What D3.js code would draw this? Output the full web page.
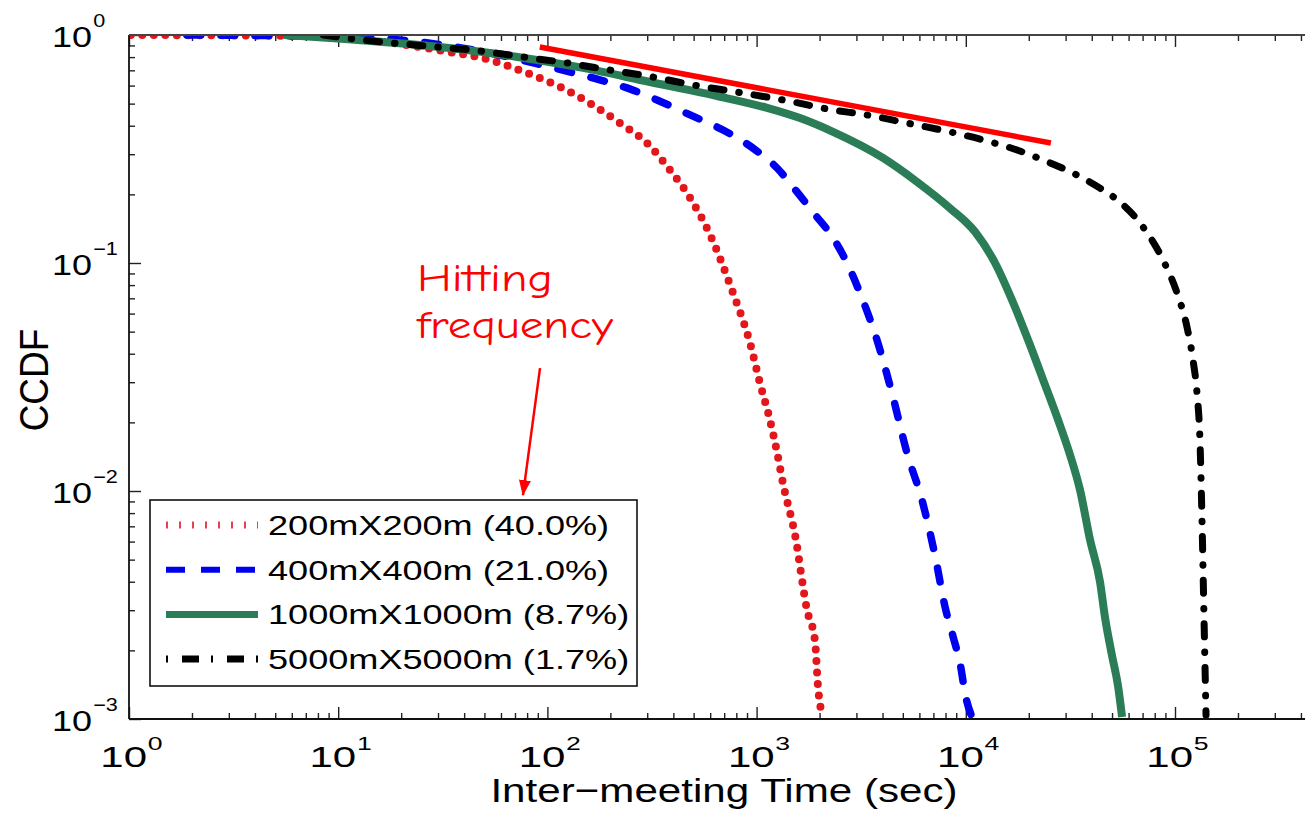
<!DOCTYPE html>
<html>
<head>
<meta charset="utf-8">
<script src="https://cdn.jsdelivr.net/npm/d3@7"></script>
<style>
body{margin:0;background:#fff}
text{font-family:"Liberation Sans",Arial,Helvetica,sans-serif;fill:#000}
</style>
</head>
<body>
<svg id="chart"></svg>
<script>
// values: [inter-meeting time (sec), CCDF]
var seriesNames = ["200mX200m (40.0%)", "400mX400m (21.0%)", "1000mX1000m (8.7%)", "5000mX5000m (1.7%)"]

var ccdf200 = [[1.02,1],[6.6,0.99],[19.7,0.913],[34,0.842],[49,0.793],[80,0.681],[115,0.592],[165,0.493],
    [222,0.411],[299,0.336],[385,0.256],[481,0.193],[599,0.133],[771,0.074],[930,0.0446],[1037,0.0298],
    [1158,0.0205],[1252,0.0148],[1337,0.0108],[1527,0.0064],[1743,0.0030],[1902,0.0022],[1964,0.0014],[2075,0.00102]]

var ccdf400 = [[1.89,1],[6.6,0.99],[19.7,0.951],[34,0.895],[59,0.817],[103,0.724],[165,0.648],[240,0.586],
    [334,0.519],[481,0.446],[691,0.383],[961,0.319],[1252,0.261],[1560,0.205],[1861,0.167],[2319,0.129],
    [2706,0.100],[3121,0.0738],[3764,0.0459],[4489,0.0258],[5235,0.0147],[6180,0.0091],[7130,0.0052],
    [7960,0.0031],[8690,0.0023],[9450,0.0017],[9910,0.0013],[10700,0.00102]]

var ccdf1000 = [[5.5,1],[6.6,0.99],[16.4,0.932],[34,0.877],[72,0.801],[148,0.717],[309,0.622],[647,0.540],
    [1122,0.479],[1612,0.432],[2319,0.376],[4018,0.289],[5845,0.227],[8400,0.174],[11070,0.137],[13800,0.100],
    [16630,0.0688],[20280,0.0437],[23920,0.0292],[27610,0.0205],[31490,0.0144],[35160,0.0101],[39260,0.0061],
    [43790,0.0040],[46260,0.0028],[49980,0.0019],[53390,0.0014],[55850,0.00102]]

var ccdf5000 = [[8.5,1],[12,0.96],[18.3,0.922],[29.7,0.886],[47.6,0.851],[76.4,0.801],[124,0.754],[199,0.702],
    [320,0.654],[497,0.604],[806,0.562],[1337,0.519],[2319,0.469],[3370,0.446],[5235,0.411],[8400,0.376],
    [13050,0.340],[17570,0.313],[23400,0.283],[32540,0.248],[43800,0.213],[54600,0.185],[70300,0.144],
    [87700,0.103],[102300,0.0738],[114100,0.0524],[121900,0.0376],[127400,0.0269],[131600,0.0167],
    [134600,0.0075],[137700,0.0027],[140700,0.00104]]

var fitLine = [[92,0.886],[25500,0.336]]
var arrowLine = [[92.2,0.0346],[76.4,0.0096]]
var noteLines = ["Hitting", "frequency"]
var noteAnchors = [[23.8,0.0754],[23.8,0.0469]]

var xTickPowers = [0,1,2,3,4,5]
var yTickPowers = [0,-1,-2,-3]

// styles, kept apart from the data
var lineStyles = [
    {color:"#e3161b", width:8, dash:"0 11.5", cap:"round"},
    {color:"#0000f0", width:7.5, dash:"14 20", cap:"round"},
    {color:"#2b7d57", width:8, dash:null, cap:"butt"},
    {color:"#000000", width:7, dash:"13 15 0.5 15", cap:"round"}
]
var legendStyles = [
    {color:"#e34050", width:7, dash:"2 11"},
    {color:"#0000f0", width:6, dash:"19 16"},
    {color:"#2b7d57", width:7, dash:null},
    {color:"#000000", width:7, dash:"2 14 17 12"}
]

var screen = {width:1305, height:814}
var plot = {left:129, top:35, bottom:719, decade:209.2}

var svg = d3.select("#chart")
    .attr("width", screen.width)
    .attr("height", screen.height)

svg.append("rect")
    .attr("width", screen.width)
    .attr("height", screen.height)
    .attr("fill", "#fff")

var xScale = d3.scaleLog()
    .domain([1, 1e6])
    .range([plot.left, plot.left + 6*plot.decade])

var yScale = d3.scaleLog()
    .domain([1e-3, 1])
    .range([plot.bottom, plot.top])

svg.append("defs")
    .append("clipPath")
    .attr("id", "clip")
    .append("rect")
    .attr("x", plot.left)
    .attr("y", plot.top)
    .attr("width", xScale(1e6) - plot.left)
    .attr("height", plot.bottom - plot.top)

var marker = svg.select("defs")
    .append("marker")
    .attr("id", "arrowhead")
    .attr("viewBox", "0 0 16 12")
    .attr("refX", 15)
    .attr("refY", 6)
    .attr("markerWidth", 16)
    .attr("markerHeight", 12)
    .attr("markerUnits", "userSpaceOnUse")
    .attr("orient", "auto")
marker.append("path")
    .attr("d", "M0,0 L16,6 L0,12 Z")
    .attr("fill", "#ff0000")

// ticks: majors longer than minors, all pointing inward
var isMajor = function(v)
{
    var l = Math.log10(v)
    return Math.abs(l - Math.round(l)) < 1e-6
}
var xMinor = xScale.ticks().filter(function(v) { return !isMajor(v) })
var xMajor = xScale.ticks().filter(isMajor)
var yMinor = yScale.ticks().filter(function(v) { return !isMajor(v) })
var yMajor = yScale.ticks().filter(isMajor)

var drawTicks = function(axis, values, size, transform)
{
    var g = svg.append("g")
        .attr("transform", transform)
        .call(axis.tickValues(values).tickSize(size).tickFormat(""))
    g.select(".domain").remove()
    g.selectAll("line").attr("stroke", "#222").attr("stroke-width", 1.4)
}
drawTicks(d3.axisBottom(xScale), xMajor, -12, "translate(0," + plot.bottom + ")")
drawTicks(d3.axisBottom(xScale), xMinor, -6, "translate(0," + plot.bottom + ")")
drawTicks(d3.axisTop(xScale), xMajor, -12, "translate(0," + plot.top + ")")
drawTicks(d3.axisTop(xScale), xMinor, -6, "translate(0," + plot.top + ")")
drawTicks(d3.axisLeft(yScale), yMajor, -12, "translate(" + plot.left + ",0)")
drawTicks(d3.axisLeft(yScale), yMinor, -6, "translate(" + plot.left + ",0)")

// curves
var lineGen = d3.line()
    .x(function(d) { return xScale(d[0]) })
    .y(function(d) { return yScale(d[1]) })
    .curve(d3.curveMonotoneX)

var curves = svg.append("g").attr("clip-path", "url(#clip)")
var allSeries = [ccdf200, ccdf400, ccdf1000, ccdf5000]
allSeries.forEach(function(data, i)
{
    var s = lineStyles[i]
    curves.append("path")
        .datum(data)
        .attr("d", lineGen)
        .attr("fill", "none")
        .attr("stroke", s.color)
        .attr("stroke-width", s.width)
        .attr("stroke-dasharray", s.dash)
        .attr("stroke-linecap", s.cap)
        .attr("stroke-linejoin", "round")
})

// frame
var frame = svg.append("g")
    .attr("stroke", "#111")
    .attr("stroke-width", 1.8)
frame.append("line")
    .attr("x1", plot.left).attr("x2", plot.left)
    .attr("y1", plot.top).attr("y2", plot.bottom)
frame.append("line")
    .attr("x1", plot.left).attr("x2", xScale(1e6))
    .attr("y1", plot.bottom).attr("y2", plot.bottom)
frame.append("line")
    .attr("x1", plot.left).attr("x2", xScale(1e6))
    .attr("y1", plot.top).attr("y2", plot.top)
    .attr("stroke", "#444")

// fitted slope line
svg.append("path")
    .datum(fitLine)
    .attr("d", d3.line().x(function(d) { return xScale(d[0]) }).y(function(d) { return yScale(d[1]) }))
    .attr("stroke", "#ff0000")
    .attr("stroke-width", 5.5)
    .attr("fill", "none")

// tick labels as 10 with superscript
var supText = function(p) { return String(p).replace("-", "\u2212") }

xTickPowers.forEach(function(p)
{
    var g = svg.append("g")
        .attr("transform", "translate(" + (xScale(Math.pow(10, p)) + 18) + ",767) scale(1.4,1)")
    g.append("text").attr("text-anchor", "end").style("font-size", "30px").text("10")
    g.append("text").attr("x", 0.5).attr("y", -17).style("font-size", "19px").text(supText(p))
})

yTickPowers.forEach(function(p)
{
    var g = svg.append("g")
        .attr("transform", "translate(92," + (yScale(Math.pow(10, p)) + 12) + ") scale(1.2,1)")
    g.append("text").attr("text-anchor", "end").style("font-size", "30px").text("10")
    g.append("text").attr("x", 1).attr("y", -20).style("font-size", "18px").text(supText(p))
})

// axis titles
svg.append("g")
    .attr("transform", "translate(724,802) scale(1.24,1)")
    .append("text")
    .attr("text-anchor", "middle")
    .style("font-size", "34px")
    .text("Inter\u2212meeting Time (sec)")

svg.append("g")
    .attr("transform", "translate(48,380) rotate(-90) scale(1,1.1)")
    .append("text")
    .attr("text-anchor", "middle")
    .style("font-size", "37px")
    .text("CCDF")

// legend
var legend = svg.append("g")
legend.append("rect")
    .attr("x", 150).attr("y", 500)
    .attr("width", 487).attr("height", 186)
    .attr("fill", "#fff")
    .attr("stroke", "#111")
    .attr("stroke-width", 1.6)

seriesNames.forEach(function(name, i)
{
    var cy = 525 + i*44.7
    var s = legendStyles[i]
    legend.append("line")
        .attr("x1", 166).attr("x2", 258)
        .attr("y1", cy).attr("y2", cy)
        .attr("stroke", s.color)
        .attr("stroke-width", s.width)
        .attr("stroke-dasharray", s.dash)
    legend.append("g")
        .attr("transform", "translate(268," + (cy + 10) + ") scale(1.29,1)")
        .append("text")
        .style("font-size", "28px")
        .text(name)
})

// annotation
var noteWidths = [136, 196]
noteLines.forEach(function(t, i)
{
    svg.append("text")
        .attr("x", xScale(noteAnchors[i][0]))
        .attr("y", yScale(noteAnchors[i][1]))
        .attr("textLength", noteWidths[i])
        .attr("lengthAdjust", "spacingAndGlyphs")
        .style("font-family", "'Comic Sans MS','Comic Neue',cursive")
        .style("font-size", "38px")
        .style("fill", "#ff0000")
        .text(t)
})

svg.append("line")
    .attr("x1", xScale(arrowLine[0][0])).attr("y1", yScale(arrowLine[0][1]))
    .attr("x2", xScale(arrowLine[1][0])).attr("y2", yScale(arrowLine[1][1]))
    .attr("stroke", "#ff0000")
    .attr("stroke-width", 2.5)
    .attr("marker-end", "url(#arrowhead)")
</script>
</body>
</html>
